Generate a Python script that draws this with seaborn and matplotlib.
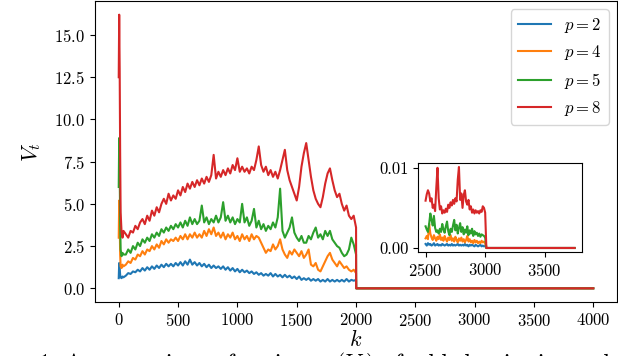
import numpy as np
import pandas as pd
import seaborn as sns
import matplotlib

matplotlib.use('Agg')
import matplotlib.pyplot as plt
from matplotlib.ticker import MultipleLocator

# ---- data ----
p_labels = ["$p=2$", "$p=4$", "$p=5$", "$p=8$"]
colors = ["#1f77b4", "#ff7f0e", "#2ca02c", "#d62728"]

# main plot, k axis (early samples, then every 20 steps up to 2000, then zero tail)
k_early = [0, 4, 8, 12, 16, 24, 32, 40]
k_mid = list(range(60, 2001, 20))
k_tail = [2001, 3999]
k_main = k_early + k_mid + k_tail

v_p2 = [0.6, 1.5, 1.2, 0.8, 0.65, 0.6, 0.7, 0.65,
        0.75, 0.9, 0.85, 1.0, 0.95, 1.1, 1.0, 1.2, 1.05, 1.25,
        1.1, 1.3, 1.15, 1.35, 1.2, 1.4, 1.25, 1.45, 1.3, 1.45,
        1.3, 1.5, 1.35, 1.55, 1.35, 1.6, 1.4, 1.7, 1.4, 1.55,
        1.35, 1.5, 1.3, 1.45, 1.25, 1.4, 1.2, 1.35, 1.2, 1.3,
        1.15, 1.3, 1.1, 1.25, 1.05, 1.2, 1.0, 1.15, 0.95, 1.1,
        0.95, 1.05, 0.9, 1.0, 0.85, 0.95, 0.8, 0.9, 0.75, 0.85,
        0.75, 0.9, 0.7, 0.85, 0.7, 0.8, 0.65, 0.8, 0.65, 0.75,
        0.6, 0.7, 0.55, 0.7, 0.5, 0.6, 0.5, 0.6, 0.45, 0.55,
        0.45, 0.55, 0.4, 0.5, 0.4, 0.55, 0.4, 0.5, 0.4, 0.5,
        0.4, 0.5, 0.4, 0.55, 0.4, 0.5, 0.45, 0.5,
        0.0, 0.0]

v_p4 = [3.0, 5.2, 4.0, 2.0, 1.3, 1.2, 1.4, 1.3,
        1.4, 1.6, 1.5, 1.8, 1.7, 2.0, 1.9, 2.2, 2.0, 2.3,
        2.2, 2.5, 2.3, 2.6, 2.4, 2.8, 2.6, 2.9, 2.7, 2.9,
        2.8, 3.0, 2.8, 3.1, 2.9, 3.2, 2.9, 3.2, 3.0, 3.3,
        3.0, 3.2, 3.0, 3.4, 3.1, 3.5, 3.2, 3.6, 3.1, 3.3,
        3.0, 3.3, 2.9, 3.2, 3.0, 3.3, 2.9, 3.1, 2.8, 3.2,
        2.9, 3.1, 2.8, 3.2, 2.9, 3.1, 3.0, 2.7, 2.4, 2.1,
        2.3, 2.2, 2.6, 2.3, 2.5, 2.9, 2.3, 2.0, 1.8, 2.2,
        2.0, 2.3, 2.1, 1.9, 2.2, 1.8, 2.0, 2.3, 1.4, 1.3,
        1.5, 1.1, 1.0, 1.3, 1.6, 1.9, 2.1, 1.7, 1.5, 1.3,
        1.6, 1.4, 1.2, 1.3, 1.1, 1.0, 1.1, 0.9,
        0.0, 0.0]

v_p5 = [6.0, 8.9, 7.0, 4.0, 2.3, 1.9, 2.1, 2.0,
        2.0, 2.3, 2.1, 2.5, 2.3, 2.7, 2.5, 2.9, 2.7, 3.0,
        2.8, 3.2, 3.0, 3.3, 3.1, 3.5, 3.3, 3.6, 3.4, 3.7,
        3.5, 3.8, 3.6, 3.9, 3.6, 4.0, 3.7, 4.2, 3.8, 4.1,
        3.8, 4.0, 4.9, 3.9, 4.2, 3.8, 4.1, 3.9, 4.3, 3.9,
        4.2, 5.1, 4.0, 4.3, 3.9, 4.2, 3.8, 4.1, 3.9, 5.0,
        3.9, 4.2, 3.7, 4.0, 4.7, 3.6, 4.0, 3.5, 3.8, 3.4,
        3.7, 3.5, 3.9, 3.6, 4.2, 5.9, 3.4, 3.0, 3.3, 3.6,
        4.2, 3.3, 3.0, 2.8, 3.1, 2.7, 2.7, 3.1, 2.9, 3.3,
        3.6, 3.0, 3.2, 2.9, 3.4, 3.1, 3.4, 2.9, 2.7, 2.5,
        2.4, 2.1, 1.9, 2.0, 2.3, 3.0, 2.6, 2.0,
        0.0, 0.0]

v_p8 = [12.5, 16.2, 13.0, 8.0, 4.5, 3.3, 3.0, 3.4,
        3.2, 3.0, 3.4, 3.3, 3.7, 3.5, 3.9, 4.1, 3.8, 4.3,
        4.0, 4.6, 4.3, 4.8, 4.5, 5.0, 5.3, 5.0, 5.6, 5.2,
        5.5, 5.3, 5.8, 5.5, 6.0, 5.7, 6.2, 5.9, 6.3, 6.0,
        6.4, 6.1, 6.5, 6.2, 6.6, 6.3, 6.7, 7.9, 6.5, 6.9,
        6.6, 7.0, 6.7, 7.1, 6.8, 7.3, 7.0, 7.7, 6.9, 7.2,
        6.9, 7.1, 6.8, 7.2, 7.0, 7.6, 8.4, 7.3, 6.9, 7.2,
        6.7, 7.0, 6.6, 6.9, 6.5, 7.0, 7.6, 8.2, 7.0, 6.4,
        6.0, 5.6, 5.2, 6.0, 7.2, 8.0, 8.6, 7.6, 6.6, 5.8,
        5.3, 5.0, 4.8, 5.4, 6.2, 6.8, 7.1, 6.4, 5.8, 5.4,
        5.6, 5.0, 4.6, 4.9, 4.3, 4.1, 4.3, 3.6,
        0.0, 0.0]

# inset, k from 2500 to 3000 every 10, then zero tail
k_inset = list(range(2500, 3001, 10)) + [3010, 3750]

w_p2 = [0.0005, 0.0003, 0.0006, 0.0004, 0.0005, 0.0003, 0.0004, 0.0006, 0.0003, 0.0004,
        0.0005, 0.0003, 0.0004, 0.0003, 0.0005, 0.0004, 0.0003, 0.0004, 0.0005, 0.0003,
        0.0004, 0.0003, 0.0005, 0.0003, 0.0004, 0.0003, 0.0004, 0.0005, 0.0003, 0.0004,
        0.0003, 0.0004, 0.0003, 0.0005, 0.0003, 0.0004, 0.0002, 0.0004, 0.0003, 0.0004,
        0.0003, 0.0002, 0.0004, 0.0003, 0.0002, 0.0003, 0.0004, 0.0002, 0.0003, 0.0002, 0.0003,
        0.0, 0.0]

w_p4 = [0.0012, 0.0015, 0.0011, 0.0030, 0.0018, 0.0013, 0.0010, 0.0016, 0.0012, 0.0009,
        0.0014, 0.0011, 0.0017, 0.0010, 0.0013, 0.0009, 0.0015, 0.0011, 0.0008, 0.0013,
        0.0010, 0.0016, 0.0009, 0.0012, 0.0008, 0.0014, 0.0010, 0.0007, 0.0012, 0.0009,
        0.0013, 0.0008, 0.0011, 0.0007, 0.0010, 0.0015, 0.0008, 0.0011, 0.0007, 0.0009,
        0.0006, 0.0010, 0.0007, 0.0009, 0.0006, 0.0008, 0.0006, 0.0009, 0.0007, 0.0008, 0.0006,
        0.0, 0.0]

w_p5 = [0.0027, 0.0023, 0.0020, 0.0030, 0.0043, 0.0035, 0.0028, 0.0040, 0.0025, 0.0020,
        0.0022, 0.0018, 0.0024, 0.0020, 0.0030, 0.0023, 0.0019, 0.0027, 0.0033, 0.0021,
        0.0016, 0.0024, 0.0020, 0.0028, 0.0035, 0.0022, 0.0029, 0.0018, 0.0025, 0.0031,
        0.0020, 0.0026, 0.0017, 0.0023, 0.0019, 0.0027, 0.0016, 0.0022, 0.0018, 0.0024,
        0.0015, 0.0021, 0.0017, 0.0019, 0.0015, 0.0018, 0.0014, 0.0017, 0.0016, 0.0015, 0.0013,
        0.0, 0.0]

w_p8 = [0.0059, 0.0067, 0.0072, 0.0068, 0.0058, 0.0062, 0.0050, 0.0054, 0.0046, 0.0075,
        0.0100, 0.0062, 0.0048, 0.0052, 0.0043, 0.0047, 0.0044, 0.0049, 0.0045, 0.0054,
        0.0050, 0.0057, 0.0053, 0.0060, 0.0055, 0.0062, 0.0058, 0.0085, 0.0101, 0.0060,
        0.0068, 0.0050, 0.0066, 0.0072, 0.0058, 0.0054, 0.0060, 0.0048, 0.0052, 0.0044,
        0.0048, 0.0043, 0.0047, 0.0044, 0.0046, 0.0043, 0.0047, 0.0045, 0.0052, 0.0050, 0.0044,
        0.0, 0.0]


def to_long(k, series):
    frames = []
    for lab, vals in zip(p_labels, series):
        frames.append(pd.DataFrame({"k": k, "V": vals, "p": lab}))
    return pd.concat(frames, ignore_index=True)


df_main = to_long(k_main, [v_p2, v_p4, v_p5, v_p8])
df_inset = to_long(k_inset, [w_p2, w_p4, w_p5, w_p8])

# ---- style: LaTeX-like look ----
plt.rcParams['font.family'] = 'serif'
plt.rcParams['font.serif'] = ['cmr10', 'DejaVu Serif']
plt.rcParams['mathtext.fontset'] = 'cm'
plt.rcParams['axes.formatter.use_mathtext'] = True
plt.rcParams['font.size'] = 12

fig = plt.figure(figsize=(6.18, 3.56), dpi=100)
ax = fig.add_axes([95 / 618, 54 / 356, 522 / 618, 301 / 356])

sns.lineplot(data=df_main, x="k", y="V", hue="p", hue_order=p_labels,
             palette=colors, estimator=None, sort=False, linewidth=1.5, ax=ax)
ax.yaxis.set_major_locator(MultipleLocator(2.5))
ax.set_xlabel("$k$", fontsize=16, labelpad=0)
ax.set_ylabel("$V_t$", fontsize=16, labelpad=8)
ax.legend(loc="upper right", fontsize=12, title=None)

# inset
axins = ax.inset_axes([0.619, 0.166, 0.314, 0.296])
sns.lineplot(data=df_inset, x="k", y="V", hue="p", hue_order=p_labels,
             palette=colors, estimator=None, sort=False, linewidth=1.5,
             legend=False, ax=axins)
axins.set_xticks([2500, 3000, 3500])
axins.set_yticks([0.0, 0.01])
axins.set_yticklabels(["0.00", "0.01"])
axins.set_xlabel("")
axins.set_ylabel("")

# caption, cut off by the bottom edge as in the picture
fig.text(38 / 618, 5 / 356, "1. A comparison of variance ($V_t$) of added noise in model updates at each",
         ha="left", va="top", fontsize=17)

fig.savefig("out.png", dpi=100)
